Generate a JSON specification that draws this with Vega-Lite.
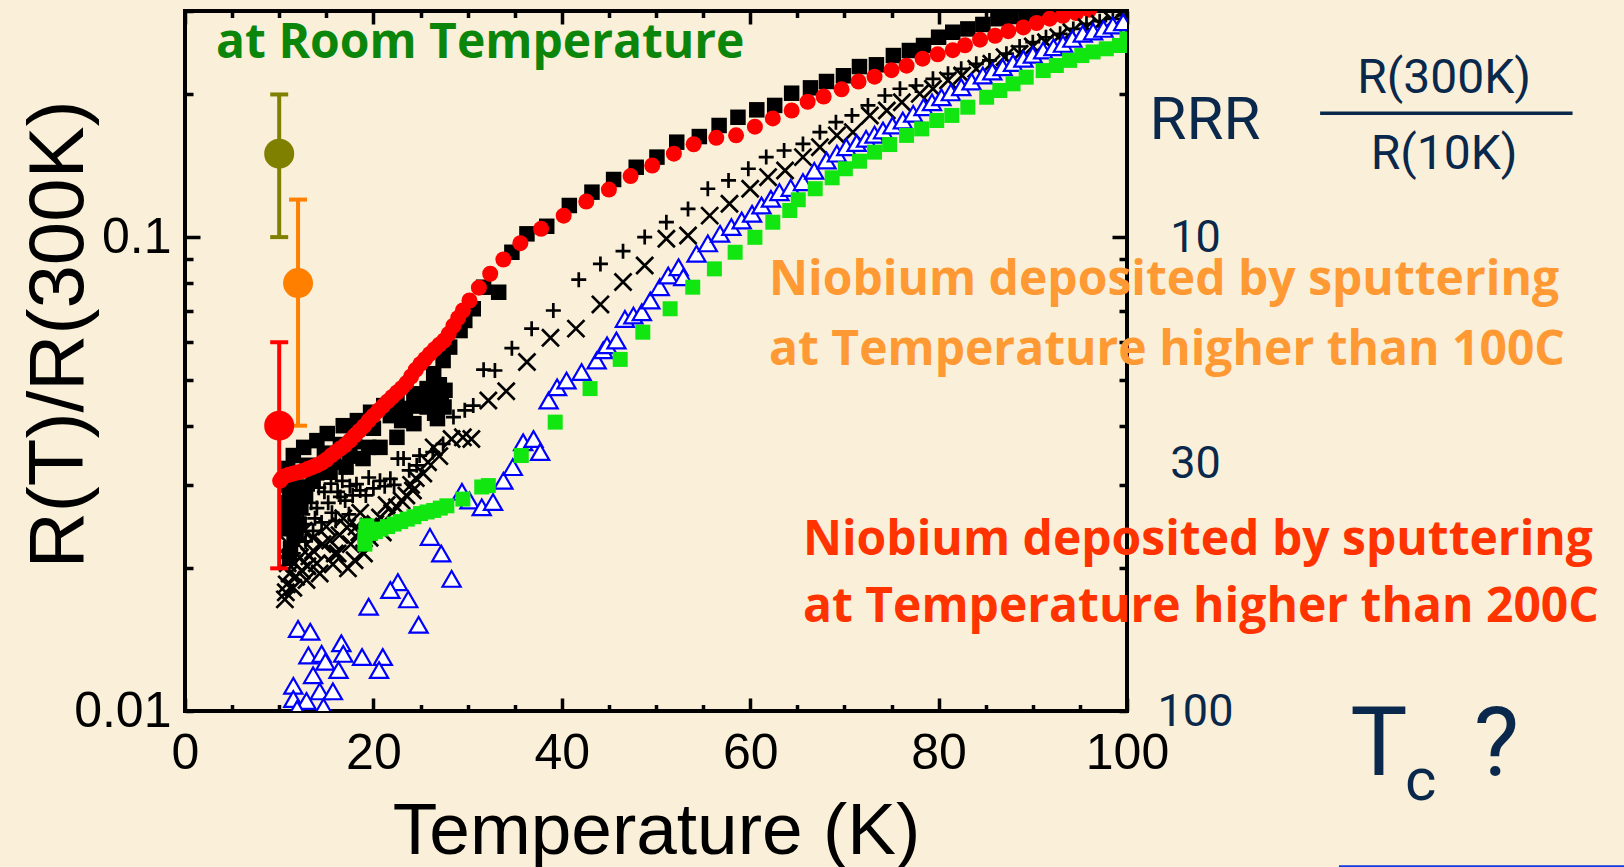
{
  "$schema": "https://vega.github.io/schema/vega-lite/v6.json",
  "width": 942,
  "height": 700,
  "autosize": {"type": "none"},
  "padding": {"left": 185, "top": 11, "right": 497, "bottom": 156},
  "config": {
    "background": "#faf0d9",
    "view": {"stroke": "black", "strokeWidth": 4},
    "axis": {"grid": false, "domain": false}
  },
  "datasets": {
    "pts": [
      {"s":"sq","T":11.5,"R":0.0346},{"s":"sq","T":12.6,"R":0.036},{"s":"sq","T":14.0,"R":0.0372},{"s":"sq","T":15.1,"R":0.0385},{"s":"sq","T":16.8,"R":0.040},{"s":"sq","T":18.3,"R":0.041},{"s":"sq","T":19.7,"R":0.0427},{"s":"sq","T":21.1,"R":0.0441},{"s":"sq","T":22.5,"R":0.0456},{"s":"sq","T":24.3,"R":0.0467},{"s":"sq","T":25.7,"R":0.0479},{"s":"sq","T":27.1,"R":0.0467},{"s":"sq","T":27.5,"R":0.0438},{"s":"sq","T":26.8,"R":0.0414},
      {"s":"sq","T":11.1,"R":0.0287},{"s":"sq","T":12.2,"R":0.0297},{"s":"sq","T":13.6,"R":0.0306},{"s":"sq","T":15.4,"R":0.0319},{"s":"sq","T":17.1,"R":0.0327},{"s":"sq","T":18.9,"R":0.0341},{"s":"sq","T":20.7,"R":0.036},{"s":"sq","T":22.5,"R":0.0378},{"s":"sq","T":24.3,"R":0.0404},{"s":"sq","T":25.7,"R":0.0438},
      {"s":"sq","T":11.3,"R":0.0315},{"s":"sq","T":13.0,"R":0.033},{"s":"sq","T":14.8,"R":0.035},{"s":"sq","T":16.5,"R":0.0365},{"s":"sq","T":18.0,"R":0.037},{"s":"sq","T":20.0,"R":0.0395},{"s":"sq","T":21.8,"R":0.042},{"s":"sq","T":23.4,"R":0.0435},{"s":"sq","T":25.0,"R":0.0455},{"s":"sq","T":26.2,"R":0.0462},{"s":"sq","T":27.2,"R":0.0452},{"s":"sq","T":26.5,"R":0.0425},{"s":"sq","T":22.5,"R":0.0424},
      {"s":"sq","T":11.0,"R":0.0265},{"s":"sq","T":11.4,"R":0.025},{"s":"sq","T":11.8,"R":0.0235},{"s":"sq","T":11.2,"R":0.022},{"s":"sq","T":12.3,"R":0.027},
      {"s":"sq","T":10.9,"R":0.0325},{"s":"sq","T":10.8,"R":0.03},{"s":"sq","T":10.9,"R":0.0275},{"s":"sq","T":11.0,"R":0.0245},{"s":"sq","T":11.1,"R":0.021},{"s":"sq","T":11.6,"R":0.0275},{"s":"sq","T":12.0,"R":0.0248},{"s":"sq","T":12.8,"R":0.0285},{"s":"sq","T":14.0,"R":0.0318},{"s":"sq","T":15.8,"R":0.0335},{"s":"sq","T":17.5,"R":0.0345},{"s":"sq","T":19.5,"R":0.036},{"s":"sq","T":23.0,"R":0.041},{"s":"sq","T":24.6,"R":0.044},{"s":"sq","T":25.3,"R":0.046},{"s":"sq","T":26.0,"R":0.0445},{"s":"sq","T":27.6,"R":0.0475},{"s":"sq","T":27.0,"R":0.0488},{"s":"sq","T":26.5,"R":0.0475},
      {"s":"sq","T":26.4,"R":0.0515},{"s":"sq","T":27.4,"R":0.0549},{"s":"sq","T":28.1,"R":0.0586},{"s":"sq","T":29.2,"R":0.0635},{"s":"sq","T":29.7,"R":0.0667},{"s":"sq","T":30.6,"R":0.0706},{"s":"sq","T":31.7,"R":0.0784},{"s":"sq","T":33.3,"R":0.0765},{"s":"sq","T":34.7,"R":0.0929},{"s":"sq","T":36.3,"R":0.1016},{"s":"sq","T":38.4,"R":0.1054},{"s":"sq","T":40.8,"R":0.1166},{"s":"sq","T":43.2,"R":0.1244},{"s":"sq","T":45.5,"R":0.1323},{"s":"sq","T":47.9,"R":0.1404},{"s":"sq","T":50.1,"R":0.1475},{"s":"sq","T":52.2,"R":0.1586},{"s":"sq","T":54.6,"R":0.163},{"s":"sq","T":56.7,"R":0.172},{"s":"sq","T":58.7,"R":0.179},{"s":"sq","T":60.7,"R":0.1856},{"s":"sq","T":62.6,"R":0.1896},{"s":"sq","T":64.4,"R":0.2012},{"s":"sq","T":66.4,"R":0.2065},{"s":"sq","T":68.1,"R":0.213},{"s":"sq","T":69.9,"R":0.219},{"s":"sq","T":71.6,"R":0.229},{"s":"sq","T":73.4,"R":0.231},{"s":"sq","T":75.2,"R":0.2416},{"s":"sq","T":76.9,"R":0.2476},{"s":"sq","T":78.4,"R":0.2537},{"s":"sq","T":80.0,"R":0.2641},{"s":"sq","T":81.5,"R":0.2706},{"s":"sq","T":83.1,"R":0.275},{"s":"sq","T":84.7,"R":0.281},{"s":"sq","T":86.3,"R":0.289},{"s":"sq","T":87.7,"R":0.292},{"s":"sq","T":89.3,"R":0.295},{"s":"sq","T":90.7,"R":0.297},{"s":"sq","T":92.2,"R":0.3},{"s":"sq","T":93.6,"R":0.303},

      {"s":"ci","T":10.1,"R":0.0306},{"s":"ci","T":10.3,"R":0.031},{"s":"ci","T":10.6,"R":0.0313},{"s":"ci","T":11.0,"R":0.0315},{"s":"ci","T":11.5,"R":0.0317},{"s":"ci","T":12.0,"R":0.0319},{"s":"ci","T":12.5,"R":0.0321},{"s":"ci","T":13.0,"R":0.0324},{"s":"ci","T":13.5,"R":0.0327},{"s":"ci","T":14.0,"R":0.033},{"s":"ci","T":14.5,"R":0.0334},{"s":"ci","T":15.0,"R":0.0339},{"s":"ci","T":15.5,"R":0.0346},{"s":"ci","T":16.0,"R":0.0352},{"s":"ci","T":16.5,"R":0.0358},{"s":"ci","T":17.0,"R":0.0364},{"s":"ci","T":17.5,"R":0.0372},{"s":"ci","T":18.0,"R":0.0381},{"s":"ci","T":18.5,"R":0.039},{"s":"ci","T":19.0,"R":0.0399},{"s":"ci","T":19.5,"R":0.041},{"s":"ci","T":20.0,"R":0.042},{"s":"ci","T":20.5,"R":0.043},{"s":"ci","T":21.0,"R":0.044},{"s":"ci","T":21.5,"R":0.045},{"s":"ci","T":22.0,"R":0.046},{"s":"ci","T":22.5,"R":0.047},{"s":"ci","T":23.0,"R":0.048},{"s":"ci","T":23.5,"R":0.0492},{"s":"ci","T":24.0,"R":0.0508},{"s":"ci","T":24.5,"R":0.0525},{"s":"ci","T":25.0,"R":0.054},{"s":"ci","T":25.5,"R":0.0553},{"s":"ci","T":26.0,"R":0.0567},{"s":"ci","T":26.5,"R":0.058},{"s":"ci","T":27.0,"R":0.0593},{"s":"ci","T":27.5,"R":0.0605},{"s":"ci","T":28.0,"R":0.0625},{"s":"ci","T":28.5,"R":0.065},{"s":"ci","T":29.0,"R":0.0675},{"s":"ci","T":29.5,"R":0.07},{"s":"ci","T":30.2,"R":0.0735},{"s":"ci","T":31.2,"R":0.0782},{"s":"ci","T":32.4,"R":0.0837},{"s":"ci","T":33.8,"R":0.0897},{"s":"ci","T":35.6,"R":0.0971},{"s":"ci","T":37.8,"R":0.1041},{"s":"ci","T":40.2,"R":0.111},{"s":"ci","T":42.6,"R":0.1189},{"s":"ci","T":45.0,"R":0.126},{"s":"ci","T":47.3,"R":0.1345},{"s":"ci","T":49.6,"R":0.1416},{"s":"ci","T":51.9,"R":0.15},{"s":"ci","T":54.0,"R":0.157},{"s":"ci","T":56.4,"R":0.162},{"s":"ci","T":58.5,"R":0.164},{"s":"ci","T":60.5,"R":0.171},{"s":"ci","T":62.4,"R":0.178},{"s":"ci","T":64.4,"R":0.185},{"s":"ci","T":66.1,"R":0.193},{"s":"ci","T":67.8,"R":0.198},{"s":"ci","T":69.7,"R":0.205},{"s":"ci","T":71.5,"R":0.213},{"s":"ci","T":73.2,"R":0.218},{"s":"ci","T":75.0,"R":0.225},{"s":"ci","T":76.6,"R":0.23},{"s":"ci","T":78.3,"R":0.238},{"s":"ci","T":79.9,"R":0.243},{"s":"ci","T":81.5,"R":0.248},{"s":"ci","T":82.8,"R":0.254},{"s":"ci","T":84.4,"R":0.261},{"s":"ci","T":86.0,"R":0.266},{"s":"ci","T":87.4,"R":0.272},{"s":"ci","T":89.0,"R":0.277},{"s":"ci","T":90.4,"R":0.283},{"s":"ci","T":91.8,"R":0.289},{"s":"ci","T":93.2,"R":0.293},{"s":"ci","T":94.6,"R":0.297},{"s":"ci","T":96.0,"R":0.302},

      {"s":"pl","T":48.8,"R":0.1},{"s":"pl","T":51.1,"R":0.1075},{"s":"pl","T":53.4,"R":0.1147},{"s":"pl","T":55.5,"R":0.1265},{"s":"pl","T":57.7,"R":0.1317},{"s":"pl","T":59.8,"R":0.1394},{"s":"pl","T":61.7,"R":0.1475},{"s":"pl","T":63.6,"R":0.1523},{"s":"pl","T":65.6,"R":0.1573},{"s":"pl","T":67.4,"R":0.1665},{"s":"pl","T":69.1,"R":0.1748},{"s":"pl","T":70.8,"R":0.1806},{"s":"pl","T":72.5,"R":0.1896},{"s":"pl","T":74.3,"R":0.199},{"s":"pl","T":75.9,"R":0.2056},{"s":"pl","T":77.6,"R":0.2089},{"s":"pl","T":79.4,"R":0.2158},{"s":"pl","T":81.0,"R":0.2211},{"s":"pl","T":82.4,"R":0.2265},{"s":"pl","T":84.0,"R":0.2321},{"s":"pl","T":85.4,"R":0.236},{"s":"pl","T":87.2,"R":0.2438},{"s":"pl","T":88.6,"R":0.2525},{"s":"pl","T":90.0,"R":0.2578},{"s":"pl","T":91.4,"R":0.2641},{"s":"pl","T":92.9,"R":0.2685},{"s":"pl","T":94.3,"R":0.275},{"s":"pl","T":95.7,"R":0.2819},{"s":"pl","T":97.1,"R":0.2855},{"s":"pl","T":98.5,"R":0.2888},{"s":"pl","T":99.6,"R":0.2935},
      {"s":"pl","T":46.5,"R":0.0934},{"s":"pl","T":44.1,"R":0.0878},{"s":"pl","T":41.8,"R":0.0813},{"s":"pl","T":39.1,"R":0.07},{"s":"pl","T":36.8,"R":0.0641},{"s":"pl","T":34.7,"R":0.0583},{"s":"pl","T":32.9,"R":0.0523},{"s":"pl","T":31.7,"R":0.0525},{"s":"pl","T":30.6,"R":0.0441},{"s":"pl","T":29.7,"R":0.0431},{"s":"pl","T":28.5,"R":0.0417},{"s":"pl","T":24.9,"R":0.0346},{"s":"pl","T":23.2,"R":0.0341},{"s":"pl","T":21.8,"R":0.0309},{"s":"pl","T":20.7,"R":0.0306},{"s":"pl","T":19.5,"R":0.0311},{"s":"pl","T":18.2,"R":0.0301},
      {"s":"pl","T":12.0,"R":0.0285},{"s":"pl","T":13.0,"R":0.0292},{"s":"pl","T":14.2,"R":0.0296},{"s":"pl","T":15.5,"R":0.0302},{"s":"pl","T":16.7,"R":0.0306},{"s":"pl","T":17.5,"R":0.0298},{"s":"pl","T":12.5,"R":0.026},{"s":"pl","T":14.0,"R":0.0268},{"s":"pl","T":15.2,"R":0.0275},{"s":"pl","T":16.5,"R":0.0283},{"s":"pl","T":11.5,"R":0.0245},{"s":"pl","T":12.8,"R":0.0248},{"s":"pl","T":14.5,"R":0.025},{"s":"pl","T":11.2,"R":0.0225},{"s":"pl","T":12.0,"R":0.023},{"s":"pl","T":22.6,"R":0.0341},{"s":"pl","T":26.3,"R":0.0352},{"s":"pl","T":27.4,"R":0.0366},
      {"s":"pl","T":10.8,"R":0.0255},{"s":"pl","T":10.9,"R":0.028},{"s":"pl","T":11.2,"R":0.0265},{"s":"pl","T":11.7,"R":0.027},{"s":"pl","T":12.2,"R":0.0255},{"s":"pl","T":13.4,"R":0.0275},{"s":"pl","T":13.8,"R":0.0255},{"s":"pl","T":14.8,"R":0.029},{"s":"pl","T":15.6,"R":0.0262},{"s":"pl","T":16.2,"R":0.029},{"s":"pl","T":17.0,"R":0.0278},{"s":"pl","T":17.8,"R":0.0285},{"s":"pl","T":18.6,"R":0.0292},{"s":"pl","T":19.2,"R":0.0285},{"s":"pl","T":20.0,"R":0.0295},{"s":"pl","T":21.2,"R":0.0298},{"s":"pl","T":22.2,"R":0.03},{"s":"pl","T":23.8,"R":0.0322},{"s":"pl","T":24.6,"R":0.033},{"s":"pl","T":10.9,"R":0.0235},{"s":"pl","T":11.5,"R":0.0215},{"s":"pl","T":12.8,"R":0.0228},{"s":"pl","T":13.6,"R":0.024},{"s":"pl","T":16.0,"R":0.0252},{"s":"pl","T":17.4,"R":0.026},

      {"s":"xx","T":48.8,"R":0.0871},{"s":"xx","T":51.1,"R":0.0992},{"s":"xx","T":53.4,"R":0.1008},{"s":"xx","T":55.7,"R":0.111},{"s":"xx","T":57.8,"R":0.1176},{"s":"xx","T":60.0,"R":0.1265},{"s":"xx","T":61.9,"R":0.1338},{"s":"xx","T":63.7,"R":0.1382},{"s":"xx","T":65.6,"R":0.1475},{"s":"xx","T":67.4,"R":0.1548},{"s":"xx","T":69.2,"R":0.1639},{"s":"xx","T":70.9,"R":0.1665},{"s":"xx","T":72.7,"R":0.1806},{"s":"xx","T":74.5,"R":0.185},{"s":"xx","T":76.1,"R":0.1926},{"s":"xx","T":78.0,"R":0.2006},{"s":"xx","T":79.4,"R":0.2056},{"s":"xx","T":81.0,"R":0.2141},{"s":"xx","T":82.5,"R":0.2193},{"s":"xx","T":84.0,"R":0.2265},{"s":"xx","T":85.6,"R":0.2321},{"s":"xx","T":87.0,"R":0.2397},{"s":"xx","T":88.6,"R":0.2438},{"s":"xx","T":90.0,"R":0.2525},{"s":"xx","T":91.4,"R":0.2578},{"s":"xx","T":92.7,"R":0.2641},{"s":"xx","T":94.1,"R":0.2706},{"s":"xx","T":95.7,"R":0.2773},{"s":"xx","T":97.1,"R":0.2819},{"s":"xx","T":98.5,"R":0.2865},{"s":"xx","T":99.6,"R":0.2911},
      {"s":"xx","T":46.5,"R":0.0804},{"s":"xx","T":44.1,"R":0.0721},{"s":"xx","T":41.5,"R":0.0641},{"s":"xx","T":38.8,"R":0.0613},{"s":"xx","T":36.3,"R":0.0545},{"s":"xx","T":34.1,"R":0.0473},{"s":"xx","T":32.2,"R":0.0452},{"s":"xx","T":30.4,"R":0.0375},{"s":"xx","T":29.5,"R":0.0378},{"s":"xx","T":28.3,"R":0.0375},{"s":"xx","T":26.4,"R":0.036},{"s":"xx","T":25.3,"R":0.0317},{"s":"xx","T":24.2,"R":0.0292},{"s":"xx","T":22.5,"R":0.0269},{"s":"xx","T":20.7,"R":0.0256},{"s":"xx","T":17.3,"R":0.02},{"s":"xx","T":15.7,"R":0.0204},{"s":"xx","T":14.3,"R":0.0195},{"s":"xx","T":12.9,"R":0.0189},{"s":"xx","T":11.5,"R":0.0182},{"s":"xx","T":10.6,"R":0.0172},{"s":"xx","T":17.2,"R":0.0244},{"s":"xx","T":15.4,"R":0.0229},{"s":"xx","T":13.6,"R":0.0218},{"s":"xx","T":12.2,"R":0.0211},{"s":"xx","T":11.1,"R":0.0195},
      {"s":"xx","T":27.0,"R":0.0345},{"s":"xx","T":25.8,"R":0.0335},{"s":"xx","T":24.5,"R":0.031},{"s":"xx","T":23.5,"R":0.0285},{"s":"xx","T":22.0,"R":0.0262},{"s":"xx","T":19.5,"R":0.0245},{"s":"xx","T":18.5,"R":0.0238},{"s":"xx","T":16.2,"R":0.0215},{"s":"xx","T":19.0,"R":0.0215},{"s":"xx","T":18.0,"R":0.0208},{"s":"xx","T":13.0,"R":0.0202},{"s":"xx","T":11.8,"R":0.0192},
      {"s":"xx","T":10.8,"R":0.0185},{"s":"xx","T":10.9,"R":0.0205},{"s":"xx","T":11.0,"R":0.0225},{"s":"xx","T":11.3,"R":0.0245},{"s":"xx","T":11.6,"R":0.0205},{"s":"xx","T":12.0,"R":0.0225},{"s":"xx","T":12.4,"R":0.0198},{"s":"xx","T":12.6,"R":0.024},{"s":"xx","T":13.2,"R":0.0212},{"s":"xx","T":13.6,"R":0.0232},{"s":"xx","T":14.0,"R":0.0205},{"s":"xx","T":14.6,"R":0.0225},{"s":"xx","T":15.0,"R":0.0245},{"s":"xx","T":15.9,"R":0.0215},{"s":"xx","T":16.4,"R":0.0235},{"s":"xx","T":16.8,"R":0.0255},{"s":"xx","T":17.6,"R":0.0225},{"s":"xx","T":18.2,"R":0.0245},{"s":"xx","T":18.6,"R":0.0262},{"s":"xx","T":19.6,"R":0.0232},{"s":"xx","T":20.2,"R":0.0248},{"s":"xx","T":21.0,"R":0.0238},{"s":"xx","T":21.4,"R":0.0272},{"s":"xx","T":23.0,"R":0.0278},{"s":"xx","T":24.0,"R":0.03},{"s":"xx","T":10.7,"R":0.0178},

      {"s":"tr","T":12.0,"R":0.0149},{"s":"tr","T":13.3,"R":0.0147},{"s":"tr","T":16.6,"R":0.0139},{"s":"tr","T":18.8,"R":0.013},{"s":"tr","T":21.0,"R":0.013},{"s":"tr","T":13.1,"R":0.0131},{"s":"tr","T":14.5,"R":0.0132},{"s":"tr","T":16.8,"R":0.0132},{"s":"tr","T":14.9,"R":0.0127},{"s":"tr","T":20.6,"R":0.0122},{"s":"tr","T":16.3,"R":0.0122},{"s":"tr","T":13.6,"R":0.0119},{"s":"tr","T":11.5,"R":0.0113},{"s":"tr","T":14.3,"R":0.011},{"s":"tr","T":15.7,"R":0.011},{"s":"tr","T":11.5,"R":0.0106},{"s":"tr","T":12.9,"R":0.0105},{"s":"tr","T":14.7,"R":0.0102},{"s":"tr","T":11.9,"R":0.0101},{"s":"tr","T":19.5,"R":0.0166},{"s":"tr","T":22.6,"R":0.0187},{"s":"tr","T":21.8,"R":0.018},{"s":"tr","T":23.7,"R":0.0172},{"s":"tr","T":24.8,"R":0.0152},{"s":"tr","T":26.0,"R":0.0233},{"s":"tr","T":27.2,"R":0.0215},{"s":"tr","T":28.3,"R":0.019},{"s":"tr","T":29.4,"R":0.029},{"s":"tr","T":30.2,"R":0.0278},{"s":"tr","T":31.5,"R":0.0269},{"s":"tr","T":32.7,"R":0.0276},{"s":"tr","T":33.8,"R":0.0306},{"s":"tr","T":34.8,"R":0.0327},{"s":"tr","T":35.9,"R":0.0369},{"s":"tr","T":37.0,"R":0.0375},{"s":"tr","T":37.7,"R":0.0352},{"s":"tr","T":38.6,"R":0.0452},{"s":"tr","T":39.5,"R":0.0482},{"s":"tr","T":40.5,"R":0.0498},{"s":"tr","T":42.1,"R":0.0519},{"s":"tr","T":43.7,"R":0.0549},{"s":"tr","T":44.4,"R":0.0577},{"s":"tr","T":44.8,"R":0.0591},{"s":"tr","T":45.8,"R":0.0605},{"s":"tr","T":46.7,"R":0.0672},{"s":"tr","T":47.6,"R":0.0683},{"s":"tr","T":48.5,"R":0.0694},{"s":"tr","T":49.4,"R":0.0735},{"s":"tr","T":50.4,"R":0.0784},{"s":"tr","T":51.3,"R":0.083},{"s":"tr","T":52.4,"R":0.0864},{"s":"tr","T":52.9,"R":0.0823},{"s":"tr","T":54.3,"R":0.0922},{"s":"tr","T":55.5,"R":0.097},{"s":"tr","T":56.8,"R":0.1016},{"s":"tr","T":58.0,"R":0.105},{"s":"tr","T":59.1,"R":0.1084},{"s":"tr","T":60.2,"R":0.112},{"s":"tr","T":61.2,"R":0.1166},{"s":"tr","T":62.2,"R":0.1205},{"s":"tr","T":63.1,"R":0.1244},{"s":"tr","T":64.3,"R":0.127},{"s":"tr","T":65.6,"R":0.1306},{"s":"tr","T":66.8,"R":0.138},{"s":"tr","T":68.1,"R":0.1451},{"s":"tr","T":69.2,"R":0.15},{"s":"tr","T":70.2,"R":0.1548},{"s":"tr","T":71.3,"R":0.158},{"s":"tr","T":72.3,"R":0.1612},{"s":"tr","T":73.2,"R":0.1645},{"s":"tr","T":74.1,"R":0.1679},{"s":"tr","T":75.1,"R":0.172},{"s":"tr","T":76.2,"R":0.1762},{"s":"tr","T":77.3,"R":0.182},{"s":"tr","T":78.4,"R":0.188},{"s":"tr","T":79.3,"R":0.1925},{"s":"tr","T":80.3,"R":0.1973},{"s":"tr","T":81.3,"R":0.202},{"s":"tr","T":82.4,"R":0.2072},{"s":"tr","T":83.5,"R":0.213},{"s":"tr","T":84.7,"R":0.2193},{"s":"tr","T":85.7,"R":0.2235},{"s":"tr","T":86.8,"R":0.2283},{"s":"tr","T":87.9,"R":0.233},{"s":"tr","T":89.0,"R":0.2378},{"s":"tr","T":90.0,"R":0.2425},{"s":"tr","T":91.1,"R":0.2476},{"s":"tr","T":92.2,"R":0.2515},{"s":"tr","T":93.2,"R":0.2557},{"s":"tr","T":94.2,"R":0.262},{"s":"tr","T":95.3,"R":0.2685},{"s":"tr","T":96.4,"R":0.2715},{"s":"tr","T":97.5,"R":0.275},{"s":"tr","T":98.5,"R":0.2795},{"s":"tr","T":99.6,"R":0.2841},

      {"s":"gr","T":19.1,"R":0.0225},{"s":"gr","T":19.1,"R":0.0233},{"s":"gr","T":19.2,"R":0.0241},{"s":"gr","T":19.3,"R":0.0246},{"s":"gr","T":19.7,"R":0.0237},{"s":"gr","T":20.2,"R":0.0239},{"s":"gr","T":20.8,"R":0.0242},{"s":"gr","T":21.5,"R":0.0245},{"s":"gr","T":22.2,"R":0.0248},{"s":"gr","T":22.9,"R":0.0251},{"s":"gr","T":23.6,"R":0.0254},{"s":"gr","T":24.3,"R":0.0257},{"s":"gr","T":25.0,"R":0.0261},{"s":"gr","T":25.7,"R":0.0263},{"s":"gr","T":26.4,"R":0.0265},{"s":"gr","T":27.1,"R":0.0268},{"s":"gr","T":27.8,"R":0.0271},{"s":"gr","T":29.5,"R":0.028},{"s":"gr","T":31.5,"R":0.0297},{"s":"gr","T":32.2,"R":0.0299},{"s":"gr","T":35.7,"R":0.0346},{"s":"gr","T":39.3,"R":0.0407},{"s":"gr","T":43.0,"R":0.0479},{"s":"gr","T":46.2,"R":0.0552},{"s":"gr","T":48.6,"R":0.063},{"s":"gr","T":51.5,"R":0.0706},{"s":"gr","T":53.9,"R":0.0784},{"s":"gr","T":56.2,"R":0.0857},{"s":"gr","T":58.4,"R":0.0929},{"s":"gr","T":60.5,"R":0.0999},{"s":"gr","T":62.4,"R":0.1075},{"s":"gr","T":64.2,"R":0.1138},{"s":"gr","T":65.1,"R":0.1199},{"s":"gr","T":66.9,"R":0.1265},{"s":"gr","T":68.7,"R":0.1334},{"s":"gr","T":70.1,"R":0.1394},{"s":"gr","T":71.6,"R":0.1446},{"s":"gr","T":73.2,"R":0.1511},{"s":"gr","T":74.8,"R":0.1568},{"s":"gr","T":76.6,"R":0.1639},{"s":"gr","T":78.2,"R":0.1692},{"s":"gr","T":79.8,"R":0.1762},{"s":"gr","T":81.4,"R":0.1806},{"s":"gr","T":83.1,"R":0.188},{"s":"gr","T":85.1,"R":0.1973},{"s":"gr","T":86.5,"R":0.2039},{"s":"gr","T":87.9,"R":0.2106},{"s":"gr","T":89.3,"R":0.2175},{"s":"gr","T":91.1,"R":0.2246},{"s":"gr","T":92.5,"R":0.2302},{"s":"gr","T":93.9,"R":0.236},{"s":"gr","T":95.2,"R":0.2416},{"s":"gr","T":96.4,"R":0.2459},{"s":"gr","T":97.8,"R":0.2497},{"s":"gr","T":99.2,"R":0.2537},{"s":"gr","T":100.0,"R":0.262}
    ],
    "bars": [
      {"sample":"room","T":10,"R":0.15,"lo":0.1,"hi":0.2},
      {"sample":"100C","T":12,"R":0.08,"lo":0.04,"hi":0.12},
      {"sample":"200C","T":10,"R":0.04,"lo":0.02,"hi":0.06}
    ],
    "notes": [
      {"g":"green","text":"at Room Temperature","T":3.3,"R":0.2382},
      {"g":"orange","text":"Niobium deposited by sputtering","T":62.0,"R":0.0753},
      {"g":"orange","text":"at Temperature higher than 100C","T":62.0,"R":0.0536},
      {"g":"red","text":"Niobium deposited by sputtering","T":65.6,"R":0.02129},
      {"g":"red","text":"at Temperature higher than 200C","T":65.6,"R":0.0154},
      {"g":"rrr","text":"RRR","T":102.4,"R":0.1612},
      {"g":"frac","text":"R(300K)","T":133.67,"R":0.2016},
      {"g":"frac","text":"R(10K)","T":133.67,"R":0.1394},
      {"g":"tc","text":"T","T":123.7,"R":0.00731},
      {"g":"tc","text":"?","T":136.8,"R":0.00731},
      {"g":"sub","text":"c","T":129.5,"R":0.0065}
    ],
    "lines": [
      {"g":"frac","T":120.5,"T2":147.3,"R":0.1826},
      {"g":"under","T":122.5,"T2":153.0,"R":0.0047}
    ]
  },
  "resolve": {"axis": {"x": "independent", "y": "independent"}},
  "layer": [
    {
      "data": {"name": "pts"},
      "transform": [{"filter": "datum.s === 'sq'"}],
      "mark": {"type": "point", "shape": "square", "filled": true, "color": "black", "size": 240, "opacity": 1, "clip": true},
      "encoding": {
        "x": {"field": "T", "type": "quantitative", "scale": {"domain": [0, 100], "nice": false, "zero": false},
          "axis": {"orient": "bottom", "values": [0, 20, 40, 60, 80, 100], "ticks": false, "domain": false, "labelFont": "Liberation Sans", "labelFontSize": 50, "labelColor": "black", "labelPadding": 17, "labelFlush": false, "labelOverlap": false, "labelBound": false, "format": "d",
            "title": "Temperature (K)", "titleFont": "Liberation Sans", "titleFontSize": 73, "titleFontWeight": "normal", "titleColor": "black", "titleX": 471, "titleY": 142, "titleAlign": "center", "titleBaseline": "alphabetic"}},
        "y": {"field": "R", "type": "quantitative", "scale": {"type": "log", "domain": [0.01, 0.3], "nice": false},
          "axis": {"orient": "left", "values": [0.01, 0.1], "ticks": false, "domain": false, "labelExpr": "datum.value < 0.05 ? '0.01' : '0.1'", "labelFont": "Liberation Sans", "labelFontSize": 50, "labelColor": "black", "labelPadding": 14, "labelFlush": false, "labelOverlap": false, "labelBound": false,
            "title": "R(T)/R(300K)", "titleFont": "Liberation Sans", "titleFontSize": 78, "titleFontWeight": "normal", "titleColor": "black", "titleAngle": 270, "titleX": -103, "titleY": 323, "titleAlign": "center", "titleBaseline": "alphabetic"}}
      }
    },
    {
      "data": {"name": "pts"},
      "transform": [{"filter": "datum.s === 'ci'"}],
      "mark": {"type": "point", "shape": "circle", "filled": true, "color": "#ff0000", "size": 256, "opacity": 1, "clip": true},
      "encoding": {
        "x": {"field": "T", "type": "quantitative", "scale": {"domain": [0, 100], "nice": false, "zero": false},
          "axis": {"orient": "bottom", "values": [0,5,10,15,20,25,30,35,40,45,50,55,60,65,70,75,80,85,90,95,100], "labels": false, "domain": false, "ticks": true, "tickColor": "black", "tickWidth": 3.5, "tickSize": {"condition": {"test": "datum.value % 20 === 0", "value": -13}, "value": -6.5}, "title": null}},
        "y": {"field": "R", "type": "quantitative", "scale": {"type": "log", "domain": [0.01, 0.3], "nice": false},
          "axis": {"orient": "left", "values": [0.01,0.02,0.03,0.04,0.05,0.06,0.07,0.08,0.09,0.1,0.2,0.3], "labels": false, "domain": false, "ticks": true, "tickColor": "black", "tickWidth": 3.5, "tickSize": {"condition": {"test": "abs(datum.value - 0.1) < 0.000001", "value": -15}, "value": -8}, "title": null}}
      }
    },
    {
      "data": {"name": "pts"},
      "transform": [{"filter": "datum.s === 'pl'"}],
      "mark": {"type": "point", "shape": "M-1,0H1M0,-1V1", "filled": false, "stroke": "black", "strokeWidth": 2.7, "size": 225, "opacity": 1, "clip": true},
      "encoding": {
        "x": {"field": "T", "type": "quantitative", "scale": {"domain": [0, 100], "nice": false, "zero": false},
          "axis": {"orient": "top", "values": [0,5,10,15,20,25,30,35,40,45,50,55,60,65,70,75,80,85,90,95,100], "labels": false, "domain": false, "ticks": true, "tickColor": "black", "tickWidth": 3.5, "tickSize": {"condition": {"test": "datum.value % 20 === 0", "value": -13}, "value": -6.5}, "title": null}},
        "y": {"field": "R", "type": "quantitative", "scale": {"type": "log", "domain": [0.01, 0.3], "nice": false},
          "axis": {"orient": "right", "values": [0.01,0.02,0.03,0.04,0.05,0.06,0.07,0.08,0.09,0.1,0.2,0.3], "labels": false, "domain": false, "ticks": true, "tickColor": "black", "tickWidth": 3.5, "tickSize": {"condition": {"test": "abs(datum.value - 0.1) < 0.000001", "value": -15}, "value": -8}, "title": null}}
      }
    },
    {
      "data": {"name": "pts"},
      "transform": [{"filter": "datum.s === 'xx'"}],
      "mark": {"type": "point", "shape": "M-1,-1L1,1M-1,1L1,-1", "filled": false, "stroke": "black", "strokeWidth": 2.7, "size": 290, "opacity": 1, "clip": true},
      "encoding": {
        "x": {"field": "T", "type": "quantitative", "scale": {"domain": [0, 100], "nice": false, "zero": false}, "axis": null},
        "y": {"field": "R", "type": "quantitative", "scale": {"type": "log", "domain": [0.01, 0.3], "nice": false},
          "axis": {"orient": "right", "values": [0.01, 0.0333333, 0.1], "ticks": false, "domain": false, "labelExpr": "datum.value < 0.02 ? '100' : (datum.value < 0.05 ? '30' : '10')", "labelFont": "Roboto", "labelFontSize": 45, "labelColor": "#0a284b", "labelAlign": "center", "labelBaseline": "middle", "labelPadding": 68, "labelFlush": false, "labelOverlap": false, "labelBound": false, "title": null}}
      }
    },
    {
      "data": {"name": "pts"},
      "transform": [{"filter": "datum.s === 'tr'"}],
      "mark": {"type": "point", "shape": "triangle-up", "fill": "#ffffff", "fillOpacity": 1, "stroke": "#0000ff", "strokeWidth": 2.2, "size": 330, "opacity": 1, "clip": true},
      "encoding": {
        "x": {"field": "T", "type": "quantitative", "scale": {"domain": [0, 100], "nice": false, "zero": false}, "axis": null},
        "y": {"field": "R", "type": "quantitative", "scale": {"type": "log", "domain": [0.01, 0.3], "nice": false}, "axis": null}
      }
    },
    {
      "data": {"name": "pts"},
      "transform": [{"filter": "datum.s === 'gr'"}],
      "mark": {"type": "point", "shape": "square", "filled": true, "color": "#11e611", "size": 225, "opacity": 1, "clip": true},
      "encoding": {
        "x": {"field": "T", "type": "quantitative", "scale": {"domain": [0, 100], "nice": false, "zero": false}, "axis": null},
        "y": {"field": "R", "type": "quantitative", "scale": {"type": "log", "domain": [0.01, 0.3], "nice": false}, "axis": null}
      }
    },
    {
      "data": {"name": "bars"},
      "mark": {"type": "rule", "strokeWidth": 4},
      "encoding": {
        "x": {"field": "T", "type": "quantitative", "scale": {"domain": [0, 100], "nice": false, "zero": false}, "axis": null},
        "y": {"field": "lo", "type": "quantitative", "scale": {"type": "log", "domain": [0.01, 0.3], "nice": false}, "axis": null},
        "y2": {"field": "hi"},
        "color": {"field": "sample", "type": "nominal", "scale": {"domain": ["room", "100C", "200C"], "range": ["#808000", "#ff8000", "#ff0000"]}, "legend": null}
      }
    },
    {
      "data": {"name": "bars"},
      "mark": {"type": "tick", "orient": "horizontal", "size": 18, "thickness": 4, "opacity": 1},
      "encoding": {
        "x": {"field": "T", "type": "quantitative", "scale": {"domain": [0, 100], "nice": false, "zero": false}, "axis": null},
        "y": {"field": "lo", "type": "quantitative", "scale": {"type": "log", "domain": [0.01, 0.3], "nice": false}, "axis": null},
        "color": {"field": "sample", "type": "nominal", "scale": {"domain": ["room", "100C", "200C"], "range": ["#808000", "#ff8000", "#ff0000"]}, "legend": null}
      }
    },
    {
      "data": {"name": "bars"},
      "mark": {"type": "tick", "orient": "horizontal", "size": 18, "thickness": 4, "opacity": 1},
      "encoding": {
        "x": {"field": "T", "type": "quantitative", "scale": {"domain": [0, 100], "nice": false, "zero": false}, "axis": null},
        "y": {"field": "hi", "type": "quantitative", "scale": {"type": "log", "domain": [0.01, 0.3], "nice": false}, "axis": null},
        "color": {"field": "sample", "type": "nominal", "scale": {"domain": ["room", "100C", "200C"], "range": ["#808000", "#ff8000", "#ff0000"]}, "legend": null}
      }
    },
    {
      "data": {"name": "bars"},
      "mark": {"type": "circle", "size": 900, "opacity": 1},
      "encoding": {
        "x": {"field": "T", "type": "quantitative", "scale": {"domain": [0, 100], "nice": false, "zero": false}, "axis": null},
        "y": {"field": "R", "type": "quantitative", "scale": {"type": "log", "domain": [0.01, 0.3], "nice": false}, "axis": null},
        "color": {"field": "sample", "type": "nominal", "scale": {"domain": ["room", "100C", "200C"], "range": ["#808000", "#ff8000", "#ff0000"]}, "legend": null}
      }
    },
    {
      "data": {"name": "notes"},
      "transform": [{"filter": "datum.g === 'green'"}],
      "mark": {"type": "text", "font": "Open Sans", "fontWeight": "bold", "fontSize": 48, "color": "#0b860b", "align": "left", "baseline": "alphabetic"},
      "encoding": {
        "x": {"field": "T", "type": "quantitative", "scale": {"domain": [0, 100], "nice": false, "zero": false}, "axis": null},
        "y": {"field": "R", "type": "quantitative", "scale": {"type": "log", "domain": [0.01, 0.3], "nice": false}, "axis": null},
        "text": {"field": "text"}
      }
    },
    {
      "data": {"name": "notes"},
      "transform": [{"filter": "datum.g === 'orange'"}],
      "mark": {"type": "text", "font": "Open Sans", "fontWeight": "bold", "fontSize": 48, "color": "#ff9933", "align": "left", "baseline": "alphabetic"},
      "encoding": {
        "x": {"field": "T", "type": "quantitative", "scale": {"domain": [0, 100], "nice": false, "zero": false}, "axis": null},
        "y": {"field": "R", "type": "quantitative", "scale": {"type": "log", "domain": [0.01, 0.3], "nice": false}, "axis": null},
        "text": {"field": "text"}
      }
    },
    {
      "data": {"name": "notes"},
      "transform": [{"filter": "datum.g === 'red'"}],
      "mark": {"type": "text", "font": "Open Sans", "fontWeight": "bold", "fontSize": 48, "color": "#ff3300", "align": "left", "baseline": "alphabetic"},
      "encoding": {
        "x": {"field": "T", "type": "quantitative", "scale": {"domain": [0, 100], "nice": false, "zero": false}, "axis": null},
        "y": {"field": "R", "type": "quantitative", "scale": {"type": "log", "domain": [0.01, 0.3], "nice": false}, "axis": null},
        "text": {"field": "text"}
      }
    },
    {
      "data": {"name": "notes"},
      "transform": [{"filter": "datum.g === 'rrr'"}],
      "mark": {"type": "text", "font": "Roboto", "fontSize": 60, "color": "#0a284b", "align": "left", "baseline": "alphabetic"},
      "encoding": {
        "x": {"field": "T", "type": "quantitative", "scale": {"domain": [0, 100], "nice": false, "zero": false}, "axis": null},
        "y": {"field": "R", "type": "quantitative", "scale": {"type": "log", "domain": [0.01, 0.3], "nice": false}, "axis": null},
        "text": {"field": "text"}
      }
    },
    {
      "data": {"name": "notes"},
      "transform": [{"filter": "datum.g === 'frac'"}],
      "mark": {"type": "text", "font": "Roboto", "fontSize": 48, "color": "#0a284b", "align": "center", "baseline": "alphabetic"},
      "encoding": {
        "x": {"field": "T", "type": "quantitative", "scale": {"domain": [0, 100], "nice": false, "zero": false}, "axis": null},
        "y": {"field": "R", "type": "quantitative", "scale": {"type": "log", "domain": [0.01, 0.3], "nice": false}, "axis": null},
        "text": {"field": "text"}
      }
    },
    {
      "data": {"name": "notes"},
      "transform": [{"filter": "datum.g === 'tc'"}],
      "mark": {"type": "text", "font": "Roboto", "fontSize": 96, "color": "#0a284b", "align": "left", "baseline": "alphabetic"},
      "encoding": {
        "x": {"field": "T", "type": "quantitative", "scale": {"domain": [0, 100], "nice": false, "zero": false}, "axis": null},
        "y": {"field": "R", "type": "quantitative", "scale": {"type": "log", "domain": [0.01, 0.3], "nice": false}, "axis": null},
        "text": {"field": "text"}
      }
    },
    {
      "data": {"name": "notes"},
      "transform": [{"filter": "datum.g === 'sub'"}],
      "mark": {"type": "text", "font": "Roboto", "fontSize": 60, "color": "#0a284b", "align": "left", "baseline": "alphabetic"},
      "encoding": {
        "x": {"field": "T", "type": "quantitative", "scale": {"domain": [0, 100], "nice": false, "zero": false}, "axis": null},
        "y": {"field": "R", "type": "quantitative", "scale": {"type": "log", "domain": [0.01, 0.3], "nice": false}, "axis": null},
        "text": {"field": "text"}
      }
    },
    {
      "data": {"name": "lines"},
      "transform": [{"filter": "datum.g === 'frac'"}],
      "mark": {"type": "rule", "strokeWidth": 3.5, "color": "#0a284b"},
      "encoding": {
        "x": {"field": "T", "type": "quantitative", "scale": {"domain": [0, 100], "nice": false, "zero": false}, "axis": null},
        "x2": {"field": "T2"},
        "y": {"field": "R", "type": "quantitative", "scale": {"type": "log", "domain": [0.01, 0.3], "nice": false}, "axis": null}
      }
    },
    {
      "data": {"name": "lines"},
      "transform": [{"filter": "datum.g === 'under'"}],
      "mark": {"type": "rule", "strokeWidth": 2.5, "color": "#1238e0"},
      "encoding": {
        "x": {"field": "T", "type": "quantitative", "scale": {"domain": [0, 100], "nice": false, "zero": false}, "axis": null},
        "x2": {"field": "T2"},
        "y": {"field": "R", "type": "quantitative", "scale": {"type": "log", "domain": [0.01, 0.3], "nice": false}, "axis": null}
      }
    }
  ]
}
